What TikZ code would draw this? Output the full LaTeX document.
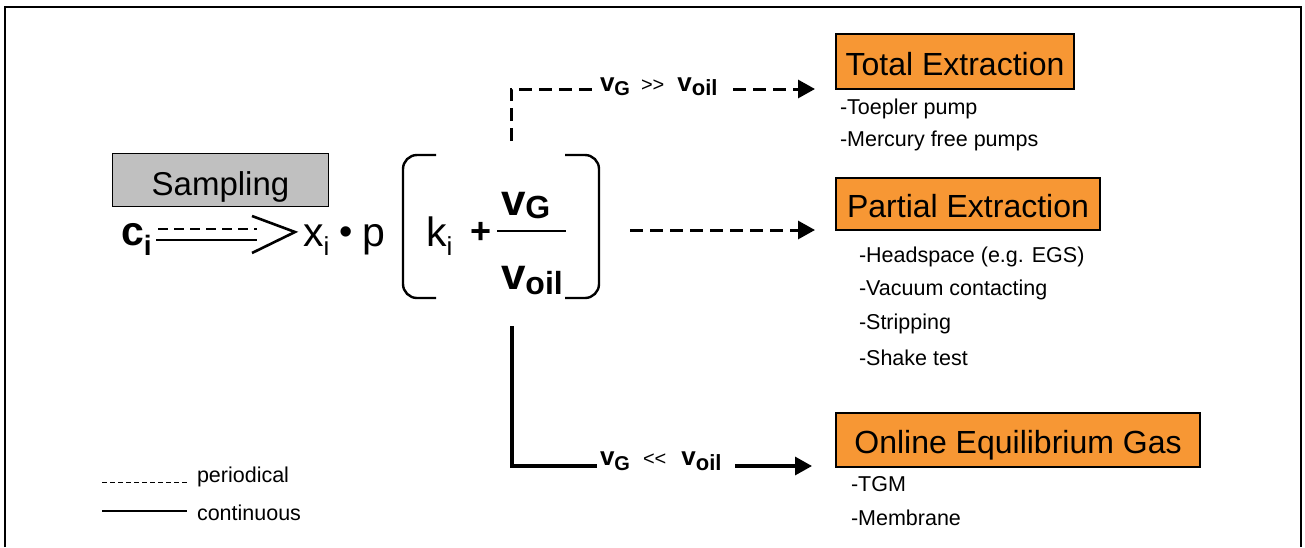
\documentclass[tikz,border=0pt]{standalone}
\usepackage{fontspec}
\setmainfont{Liberation Sans}
\usetikzlibrary{arrows.meta}
\definecolor{boxorange}{RGB}{247,151,52}
\definecolor{sampgray}{RGB}{192,192,192}
\newcommand{\fsz}[1]{\fontsize{#1}{#1}\selectfont}

\begin{document}
\begin{tikzpicture}[x=1pt,y=-1pt,
  every node/.style={inner sep=0pt, outer sep=0pt},
  method/.style={draw=black, line width=2pt, fill=boxorange, font=\fsz{32},
                 text height=26pt, text depth=0pt},
  item/.style={anchor=west, font=\fsz{21.5}},
  periodic/.style={dash pattern=on 13pt off 7pt, line width=3pt},
  steady/.style={line width=3.2pt},
  tip/.style={-{Triangle[length=17pt,width=18pt]}},
  glyph/.style={anchor=base west, font=\fsz{41}},
  subglyph/.style={anchor=base west, font=\fsz{26}},
  fracpart/.style={anchor=base west, font=\fsz{44}\bfseries},
  fracsub/.style={anchor=base west, font=\fsz{32}\bfseries},
  bracket/.style={line width=2.4pt, rounded corners=14pt},
  cond/.style={anchor=base west, font=\fsz{26}\bfseries}
]
\useasboundingbox (0,0) rectangle (1305,547);

% outer frame, open at the bottom
\draw[line width=2pt] (5,547) -- (5,6.5) -- (1301,6.5) -- (1301,547);

% sampling step
\node[draw=black, line width=1.5pt, fill=sampgray, minimum width=216pt,
      minimum height=53pt, font=\fsz{33}, text height=31pt, text depth=0pt]
  (samp) at (220.5,180) {Sampling};

\node[anchor=base west, font=\fsz{41}\bfseries] (ci) at (121,245)
  {c\raisebox{-10pt}{\fsz{28}i}};

% double arrow c_i => x_i
\coordinate (da1) at (158,229);
\coordinate (da2) at (257,229);
\coordinate (ds1) at (156,240);
\coordinate (ds2) at (257,240);
\coordinate (chA) at (252,216);
\coordinate (chB) at (295,232);
\coordinate (chC) at (252,253);
\draw[line width=2.2pt, dash pattern=on 10pt off 6pt] (da1) -- (da2);
\draw[line width=2.2pt] (ds1) -- (ds2);
\draw[line width=2.6pt] (chA) -- (chB) -- (chC);

% x_i * p
\node[glyph] (xs) at (303,246) {x};
\node[subglyph] (xsub) at (xs.base east) [yshift=-9pt] {i};
\node[font=\fsz{38}] (dot) at (346,236) {•};
\node[glyph] (ps) at (362,246) {p};

% bracket with k_i + v_G / v_oil
\draw[bracket] (436,155) -- (403,155) -- (403,298) -- (436,298);
\draw[bracket] (565,155) -- (599,155) -- (599,298) -- (565,298);
\node[glyph] (ks) at (426,246) {k};
\node[subglyph] (ksub) at (ks.base east) [yshift=-9pt] {i};
\node[font=\fsz{36}\bfseries] (plus) at (481,233) {+};
\node[fracpart] (vg) at (501,215) {v};
\node[fracsub] (vgsub) at (vg.base east) [yshift=-3pt] {G};
\node[fracpart] (vo) at (501,289) {v};
\node[fracsub] (vosub) at (vo.base east) [yshift=-5pt] {oil};
\coordinate (fl1) at (497,231);
\coordinate (fl2) at (566,231);
\draw[line width=2.5pt] (fl1) -- (fl2);

% extraction methods
\node[method, minimum width=238pt, minimum height=55pt, text height=27pt] (te) at (955,61.5)
  {Total Extraction};
\node[method, minimum width=264pt, minimum height=52pt] (pe) at (968,204)
  {Partial Extraction};
\node[method, minimum width=364pt, minimum height=54pt] (oe) at (1018,440)
  {Online Equilibrium Gas};

\node[item] (t1) at (840,109) {-Toepler pump};
\node[item] (t2) at (840,141) {-Mercury free pumps};
\node[item] (p1) at (859,257) {-Headspace (e.g. EGS)};
\node[item] (p2) at (859,290) {-Vacuum contacting};
\node[item] (p3) at (859,324) {-Stripping};
\node[item] (p4) at (859,358) {-Shake test};
\node[item] (o1) at (851,484) {-TGM};
\node[item] (o2) at (851,518) {-Membrane};

% condition labels
\node[cond] (lab1) at (600,91)
  {v\raisebox{-4pt}{\fsz{20}G}\hspace{11pt}{\fsz{20}\mdseries >\kern0pt>}\hspace{13pt}v\raisebox{-4pt}{\fsz{22}oil}};
\node[cond] (lab2) at (600,465)
  {v\raisebox{-5pt}{\fsz{20}G}\hspace{13pt}{\fsz{20}\mdseries <\kern0pt<}\hspace{15pt}v\raisebox{-5pt}{\fsz{22}oil}};

% branch connectors
\coordinate (up0) at (511,141);
\coordinate (up1) at (597,89);
\coordinate (up2) at (733,89);
\coordinate (up3) at (815,89);
\draw[periodic] (up0) |- (up1);
\draw[periodic, tip] (up2) -- (up3);

\coordinate (mid0) at (630,230);
\coordinate (mid1) at (815,230);
\draw[periodic, tip] (mid0) -- (mid1);

\coordinate (low0) at (512,326);
\coordinate (low1) at (597,466);
\coordinate (low2) at (735,466);
\coordinate (low3) at (812,466);
\draw[steady] (low0) |- (low1);
\draw[steady, tip] (low2) -- (low3);

% legend
\coordinate (lg1) at (102,482);
\coordinate (lg2) at (187,482);
\coordinate (lg3) at (102,511);
\coordinate (lg4) at (187,511);
\draw[line width=1pt, dash pattern=on 5pt off 3pt] (lg1) -- (lg2);
\draw[line width=1.2pt] (lg3) -- (lg4);
\node[item] (leg1) at (197,477) {periodical};
\node[item] (leg2) at (197,513) {continuous};
\end{tikzpicture}
\end{document}
